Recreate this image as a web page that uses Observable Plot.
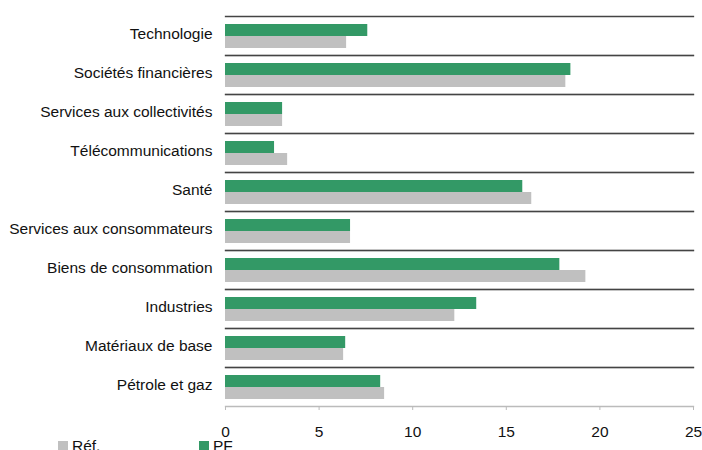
<!DOCTYPE html>
<html><head><meta charset="utf-8">
<script src="https://cdn.jsdelivr.net/npm/d3@7"></script>
<script src="https://cdn.jsdelivr.net/npm/@observablehq/plot@0.6"></script>
<style>
body{margin:0;background:#fff;font-family:"Liberation Sans",Arial,sans-serif;}
#legend{position:relative;height:20px;font-size:15.5px;color:#111;}
.item{position:absolute;top:-3px;display:flex;align-items:center;line-height:17px;}
.sw{width:10px;height:10px;margin-right:4px;}
</style></head><body>
<div id="chart"></div>
<div id="legend"></div>
<script>
const categories = ["Technologie","Sociétés financières","Services aux collectivités","Télécommunications","Santé","Services aux consommateurs","Biens de consommation","Industries","Matériaux de base","Pétrole et gaz"];
const pfValues  = [7.6, 18.45, 3.05, 2.62, 15.88, 6.68, 17.86, 13.42, 6.42, 8.29];
const refValues = [6.47, 18.18, 3.05, 3.32, 16.36, 6.68, 19.25, 12.25, 6.31, 8.5];
const seriesNames = ["PF", "Réf."];
const seriesColors = ["#339966", "#c0c0c0"];
const legendOrder = ["Réf.", "PF"];
const xTicks = [0, 5, 10, 15, 20, 25];

const data = categories.flatMap((c, i) => [
  {category: c, series: "PF", value: pfValues[i]},
  {category: c, series: "Réf.", value: refValues[i]}
]);

const chart = Plot.plot({
  width: 702, height: 440,
  marginLeft: 225, marginRight: 9, marginTop: 15, marginBottom: 34,
  style: {fontFamily: '"Liberation Sans", Arial, sans-serif', fontSize: "15.5px", color: "#111", background: "#fff"},
  fy: {domain: categories, paddingInner: 0, paddingOuter: 0, label: null, axis: null},
  y: {domain: seriesNames, paddingInner: 0, paddingOuter: 0.56, axis: null},
  x: {domain: [0, 25], axis: null},
  color: {domain: seriesNames, range: seriesColors},
  marks: [
    Plot.frame({anchor: "bottom", stroke: "#bbb", strokeWidth: 1.3}),
    Plot.frame({anchor: "top", stroke: "#444", strokeWidth: 1.3}),
    Plot.barX(data, {fy: "category", y: "series", x: "value", fill: "series"}),
    Plot.axisFy({anchor: "left", tickSize: 0, tickPadding: 13, label: null, fill: "#111", dy: -1.5}),
    Plot.axisX({ticks: xTicks, tickSize: 4, tickPadding: 15, stroke: "#bbb", fill: "#111", label: null})
  ]
});
document.getElementById("chart").appendChild(chart);

const legend = document.getElementById("legend");
const legendX = {"Réf.": 58, "PF": 199};
legendOrder.forEach(name => {
  const item = document.createElement("div");
  item.className = "item";
  item.style.left = legendX[name] + "px";
  const sw = document.createElement("span");
  sw.className = "sw";
  sw.style.background = seriesColors[seriesNames.indexOf(name)];
  item.appendChild(sw);
  item.appendChild(document.createTextNode(name));
  legend.appendChild(item);
});
</script>
</body></html>
